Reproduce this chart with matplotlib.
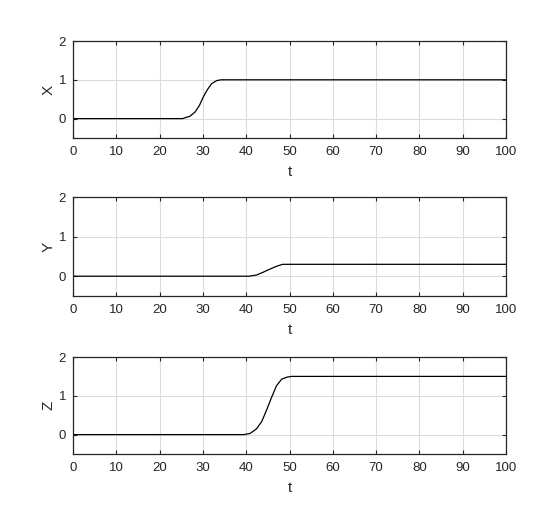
import matplotlib
matplotlib.use("Agg")
import matplotlib.pyplot as plt

plt.rcParams['font.family'] = ['Liberation Sans', 'DejaVu Sans']

# X series
t_x = [0, 25.3, 27.0, 28.2, 29.2, 30.1, 31.0, 32.0, 33.2, 34.2, 100]
v_x = [0, 0, 0.06, 0.17, 0.34, 0.56, 0.74, 0.90, 0.98, 1.0, 1.0]

# Y series
t_y = [0, 40.7, 42.4, 43.9, 45.5, 47.0, 48.4, 100]
v_y = [0, 0, 0.03, 0.10, 0.18, 0.25, 0.30, 0.30]

# Z series
t_z = [0, 39.5, 40.9, 42.4, 43.6, 44.7, 45.9, 47.0, 48.2, 49.4, 50.5, 100]
v_z = [0, 0, 0.03, 0.15, 0.34, 0.63, 0.97, 1.26, 1.43, 1.48, 1.5, 1.5]

labels = ['X', 'Y', 'Z']
series = [(t_x, v_x), (t_y, v_y), (t_z, v_z)]
x_ticks = [0, 10, 20, 30, 40, 50, 60, 70, 80, 90, 100]
y_ticks = [0, 1, 2]

fig = plt.figure(figsize=(5.6, 5.28), dpi=100)
W, H = 560, 528
boxes = [(41, 138), (197, 296), (357, 454)]
left, right = 73, 506

for (top, bot), lab, (tt, vv) in zip(boxes, labels, series):
    ax = fig.add_axes([left / W, 1 - bot / H, (right - left) / W, (bot - top) / H])
    ax.plot(tt, vv, color='black', linewidth=0.9)
    ax.set_xlim(0, 100)
    ax.set_ylim(-0.5, 2)
    ax.set_xticks(x_ticks)
    ax.set_yticks(y_ticks)
    ax.grid(True, color='#dcdcdc', linewidth=0.8)
    ax.set_axisbelow(True)
    ax.tick_params(direction='in', top=True, right=True, length=3, width=0.8,
                   labelsize=9.5, colors='#262626', pad=6)
    ax.tick_params(axis='y', pad=5)
    for s in ax.spines.values():
        s.set_color('#262626')
        s.set_linewidth(0.9)
    ax.set_xlabel('t', fontsize=11, color='#262626', labelpad=5)
    ax.set_ylabel(lab, fontsize=11, color='#262626', labelpad=2)

fig.savefig('out.png', dpi=100, facecolor='white')
